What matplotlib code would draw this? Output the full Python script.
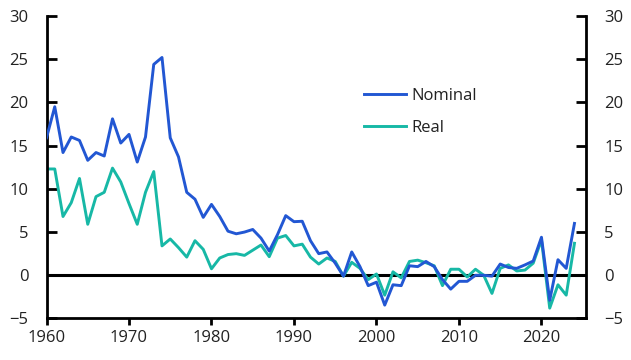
import matplotlib.pyplot as plt

plt.rcParams['font.family'] = ['Open Sans', 'DejaVu Sans']
plt.rcParams['text.color'] = '#222222'
plt.rcParams['xtick.labelcolor'] = '#222222'
plt.rcParams['ytick.labelcolor'] = '#222222'

years = list(range(1960, 2025))

nominal = [15.9, 19.5, 14.2, 16.0, 15.6, 13.3, 14.2, 13.8, 18.1, 15.3,
           16.3, 13.1, 16.0, 24.4, 25.2, 15.9, 13.7, 9.6, 8.8, 6.7,
           8.2, 6.8, 5.1, 4.8, 5.0, 5.3, 4.3, 2.8, 4.7, 6.9,
           6.2, 6.25, 4.0, 2.5, 2.7, 1.4, -0.1, 2.7, 1.0, -1.2,
           -0.8, -3.45, -1.1, -1.2, 1.1, 1.0, 1.6, 1.0, -0.5, -1.6,
           -0.7, -0.7, 0.0, 0.0, -0.1, 1.3, 0.9, 0.8, 1.2, 1.65,
           4.4, -2.9, 1.8, 0.8, 6.0]

real = [12.3, 12.3, 6.8, 8.4, 11.2, 5.9, 9.1, 9.6, 12.4, 10.8,
        8.3, 5.9, 9.6, 12.0, 3.4, 4.2, 3.2, 2.1, 4.0, 3.0,
        0.75, 2.0, 2.4, 2.5, 2.3, 2.9, 3.5, 2.15, 4.3, 4.6,
        3.4, 3.6, 2.1, 1.3, 2.0, 1.6, -0.1, 1.5, 0.8, -0.5,
        0.15, -2.3, 0.4, -0.3, 1.6, 1.75, 1.45, 1.1, -1.2, 0.7,
        0.7, -0.2, 0.7, 0.0, -2.1, 0.8, 1.2, 0.5, 0.6, 1.4,
        4.1, -3.8, -1.1, -2.3, 3.7]

fig = plt.figure(figsize=(6.31, 3.6), dpi=100)
ax = fig.add_axes([0.0737, 0.1153, 0.855, 0.8403])

# zero line
ax.axhline(0, color='black', linewidth=2.2, zorder=1)
ax.plot(years, nominal, color='#2257d3', linewidth=2.1, label='Nominal', zorder=3)
ax.plot(years, real, color='#17b8a6', linewidth=2.1, label='Real', zorder=2)

ax.set_xlim(1960, 2025.4)
ax.set_ylim(-5, 30)
ax.set_xticks(range(1960, 2030, 10))
ax.set_yticks(range(-5, 35, 5))

for side in ['left', 'right', 'bottom']:
    ax.spines[side].set_linewidth(2)
ax.spines['top'].set_visible(False)

ax.tick_params(axis='y', direction='in', length=7, width=2, labelsize=12,
               left=True, right=True, labelleft=True, labelright=True, pad=13)
ax.tick_params(axis='x', direction='out', length=5, width=2, labelsize=12, pad=3)

ax.legend(frameon=False, loc='center left', bbox_to_anchor=(0.5885, 0.683),
          borderaxespad=0, borderpad=0, labelspacing=1.0,
          handlelength=2.5, handletextpad=0.35, fontsize=12)

fig.savefig('out.png', dpi=100)
